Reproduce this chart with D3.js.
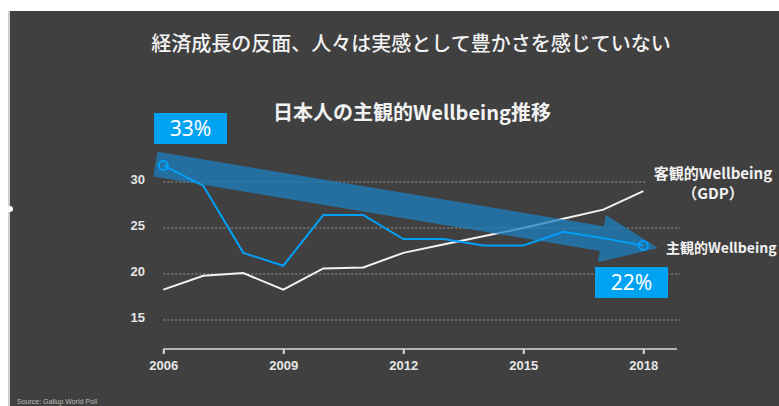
<!DOCTYPE html>
<html>
<head>
<meta charset="utf-8">
<script src="https://cdn.jsdelivr.net/npm/d3@7"></script>
<style>
body { margin: 0; background: #fff; }
svg text { font-family: "Noto Sans CJK JP", "Noto Sans", sans-serif; }
</style>
</head>
<body>
<script>
let width = 779;
let height = 406;

// data
let years = [2006, 2007, 2008, 2009, 2010, 2011, 2012, 2013, 2014, 2015, 2016, 2017, 2018];
let subjective = [31.8, 29.6, 22.3, 20.9, 26.4, 26.4, 23.8, 23.8, 23.1, 23.1, 24.6, 23.9, 23.1];
let objective = [18.3, 19.8, 20.1, 18.3, 20.6, 20.7, 22.3, 23.2, 24.1, 25.0, 26.0, 27.0, 29.0];
let xTicks = [2006, 2009, 2012, 2015, 2018];
let yTicks = [15, 20, 25, 30];
let startLabel = "33%";
let endLabel = "22%";

let svg = d3.select("body")
    .append("svg")
    .attr("width", width)
    .attr("height", height);

// panel
svg.append("rect").attr("x", 8).attr("y", 11).attr("width", 2).attr("height", height).attr("fill", "#d0d0d0");
svg.append("rect").attr("x", 10).attr("y", 11).attr("width", width - 10).attr("height", height).attr("fill", "#404040");
svg.append("circle").attr("cx", 10).attr("cy", 209).attr("r", 3).attr("fill", "#fff");

svg.append("text")
    .attr("x", 411).attr("y", 51)
    .attr("text-anchor", "middle")
    .attr("fill", "#f2f2f2")
    .attr("font-size", 20)
    .attr("font-weight", 500)
    .text("経済成長の反面、人々は実感として豊かさを感じていない");

svg.append("text")
    .attr("x", 412).attr("y", 120)
    .attr("text-anchor", "middle")
    .attr("fill", "#f2f2f2")
    .attr("font-size", 20)
    .attr("font-weight", "bold")
    .text("日本人の主観的Wellbeing推移");

let x = d3.scaleLinear().domain([2006, 2018]).range([163.3, 643.3]);
let y = d3.scaleLinear().domain([15, 30]).range([320, 182]);

// grid lines
svg.append("g")
    .selectAll("line")
    .data(yTicks)
    .enter().append("line")
        .attr("x1", x(2006))
        .attr("x2", function(d) { return d === 30 ? 647 : 680; })
        .attr("y1", function(d) { return y(d); })
        .attr("y2", function(d) { return y(d); })
        .attr("stroke", "#9a9a9a")
        .attr("stroke-width", 1)
        .attr("stroke-dasharray", "2,2");

svg.append("g")
    .selectAll("text")
    .data(yTicks)
    .enter().append("text")
        .attr("x", 145)
        .attr("y", function(d) { return y(d) + 2; })
        .attr("text-anchor", "end")
        .attr("fill", "#e6e6e6")
        .attr("font-size", 13)
        .attr("font-weight", "bold")
        .style("font-family", "'Liberation Sans', Arial, sans-serif")
        .text(function(d) { return d; });

// x axis
let xAxis = svg.append("g")
    .attr("transform", "translate(0,349)")
    .call(d3.axisBottom(x).tickValues(xTicks).tickFormat(d3.format("d")).tickSize(5).tickSizeOuter(0));
xAxis.select(".domain").attr("stroke", "#d9d9d9").attr("stroke-width", 1.5)
    .attr("d", "M" + x(2006) + ",0H677");
xAxis.selectAll(".tick line").attr("stroke", "#d9d9d9").attr("stroke-width", 2);
xAxis.selectAll(".tick text")
    .attr("fill", "#e6e6e6")
    .attr("font-size", 13)
    .attr("font-weight", "bold")
    .attr("dy", "1em")
    .style("font-family", "'Liberation Sans', Arial, sans-serif");

let line = d3.line()
    .x(function(d) { return x(d[0]); })
    .y(function(d) { return y(d[1]); });

let objData = years.map(function(yr, i) { return [yr, objective[i]]; });
let subData = years.map(function(yr, i) { return [yr, subjective[i]]; });

svg.append("path")
    .datum(objData)
    .attr("d", line)
    .attr("fill", "none")
    .attr("stroke", "#f2f2f2")
    .attr("stroke-width", 2);

// big trend arrow from first to last subjective point
let p0 = [x(years[0]), y(subjective[0])];
let p1 = [x(years[years.length - 1]), y(subjective[subjective.length - 1])];
let dx = p1[0] - p0[0], dy = p1[1] - p0[1];
let len = Math.sqrt(dx * dx + dy * dy);
let u = [dx / len, dy / len];
let n = [-u[1], u[0]];
let start = [p0[0] - 8 * u[0], p0[1] - 8 * u[1]];
let tip = [p1[0] + 15 * u[0], p1[1] + 15 * u[1]];
let base = [tip[0] - 57 * u[0], tip[1] - 57 * u[1]];
function off(p, w) { return [p[0] + n[0] * w, p[1] + n[1] * w]; }
let arrowPts = [off(start, -12.5), off(base, -12.5), off(base, -24), tip, off(base, 24), off(base, 12.5), off(start, 12.5)];
svg.append("path")
    .attr("d", "M" + arrowPts.map(function(p) { return p.join(","); }).join("L") + "Z")
    .attr("fill", "#1c7fc0")
    .attr("fill-opacity", 0.75);

svg.append("path")
    .datum(subData)
    .attr("d", line)
    .attr("fill", "none")
    .attr("stroke", "#00a0f8")
    .attr("stroke-width", 2);

svg.append("g")
    .selectAll("circle")
    .data([subData[0], subData[subData.length - 1]])
    .enter().append("circle")
        .attr("cx", function(d) { return x(d[0]); })
        .attr("cy", function(d) { return y(d[1]); })
        .attr("r", 4.5)
        .attr("fill", "none")
        .attr("stroke", "#00a0f8")
        .attr("stroke-width", 2);

// callout boxes
let boxes = [
    { label: startLabel, x: 154, y: 113 },
    { label: endLabel, x: 595, y: 267 }
];
let box = svg.append("g").selectAll("g").data(boxes).enter().append("g");
box.append("rect")
    .attr("x", function(d) { return d.x; })
    .attr("y", function(d) { return d.y; })
    .attr("width", 73)
    .attr("height", 31)
    .attr("fill", "#00a2f2");
box.append("text")
    .attr("x", function(d) { return d.x + 36.5; })
    .attr("y", function(d) { return d.y + 23; })
    .attr("text-anchor", "middle")
    .attr("fill", "#fff")
    .attr("font-size", 21)
    .style("font-family", "'Noto Sans', sans-serif")
    .text(function(d) { return d.label; });

// series labels
svg.append("text")
    .attr("x", 713).attr("y", 179)
    .attr("text-anchor", "middle")
    .attr("fill", "#f2f2f2")
    .attr("font-size", 15)
    .attr("font-weight", "bold")
    .text("客観的Wellbeing");
svg.append("text")
    .attr("x", 713).attr("y", 199)
    .attr("text-anchor", "middle")
    .attr("fill", "#f2f2f2")
    .attr("font-size", 15)
    .attr("font-weight", "bold")
    .text("（GDP）");
svg.append("text")
    .attr("x", 666).attr("y", 253)
    .attr("fill", "#f2f2f2")
    .attr("font-size", 14)
    .attr("font-weight", "bold")
    .text("主観的Wellbeing");

svg.append("text")
    .attr("x", 17).attr("y", 404)
    .attr("fill", "#bbb")
    .attr("font-size", 7)
    .style("font-family", "'Liberation Sans', Arial, sans-serif")
    .text("Source: Gallup World Poll");
</script>
</body>
</html>
